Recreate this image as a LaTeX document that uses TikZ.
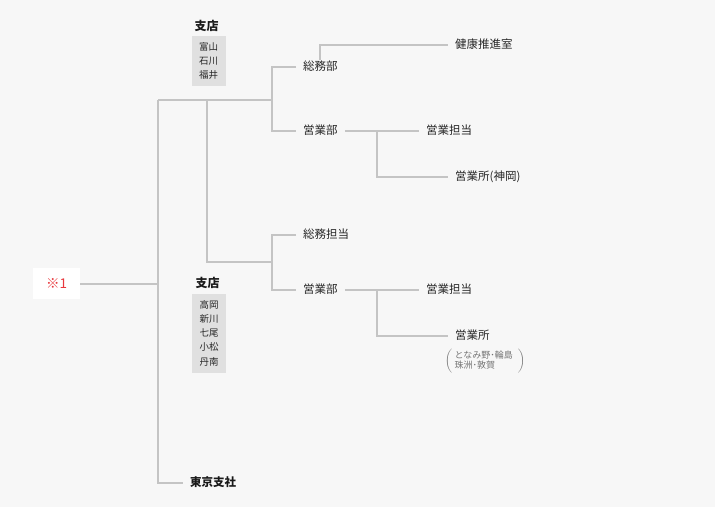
\documentclass[tikz,border=0pt]{standalone}
\usepackage{fontspec}
\newfontfamily\jp{Noto Sans CJK JP}
\usepackage{tikz}
\definecolor{bgcol}{HTML}{F7F7F7}
\definecolor{linecol}{HTML}{C4C4C4}
\definecolor{txtcol}{HTML}{262626}
\definecolor{boxcol}{HTML}{E0E0E0}
\definecolor{markred}{HTML}{E8383D}
\tikzset{
  conn/.style={draw=linecol, line width=2pt},
  label/.style={anchor=west, inner xsep=7pt, inner ysep=2pt, text=txtcol,
    font=\jp\fontsize{11.5}{14}\selectfont, text height=0.88em, text depth=0.12em},
  title/.style={inner sep=1pt, text=black!90, font=\jp\bfseries\fontsize{12}{14}\selectfont},
  listbox/.style={fill=boxcol, align=center, text=txtcol, minimum width=34pt,
    inner sep=0pt, font=\jp\fontsize{9.5}{14.3}\selectfont},
  note/.style={inner sep=0pt, text=txtcol, font=\jp\fontsize{9}{12}\selectfont}
}
\begin{document}
\begin{tikzpicture}[x=1pt, y=-1pt]
  \fill[bgcol] (0,0) rectangle (715,507);
  \useasboundingbox (0,0) rectangle (715,507);

  \node[fill=white, minimum width=47pt, minimum height=31pt, text=markred,
    font=\jp\fontsize{13.5}{16}\selectfont] (mark) at (56.5,283.5) {※1};

  \node[title] (shiten1) at (206.5,26) {支店};
  \node[listbox, minimum height=50pt] (list1) at (208.5,61) {富山\\石川\\福井};
  \node[title] (shiten2) at (207.5,283) {支店};
  \node[listbox, minimum height=79pt] (list2) at (209,333) {高岡\\新川\\七尾\\小松\\丹南};

  \node[label] (sm1) at (296,67) {総務部};
  \node[label] (eb1) at (296,131) {営業部};
  \node[label] (ken) at (448,45) {健康推進室};
  \node[label] (et1) at (419,131) {営業担当};
  \node[label] (es1) at (448,177) {営業所(神岡)};

  \node[label] (st2) at (296,235) {総務担当};
  \node[label] (eb2) at (296,290) {営業部};
  \node[label] (et2) at (419,290) {営業担当};
  \node[label] (es2) at (448,336) {営業所};
  \node[note] (area) at (485,361)
    {$\color{black!55}\left(\vcenter{\hbox{\begin{tabular}{@{\;}l@{\;\;}}となみ野･輪島\\[-2pt]珠洲･敦賀\end{tabular}}}\right)$};

  \node[label, font=\jp\bfseries\fontsize{11.5}{14}\selectfont, text=black!90] (tokyo) at (183,483) {東京支社};

  \coordinate (ta) at (158,100);
  \coordinate (tm) at (158,283.5);
  \coordinate (ga) at (272,100);
  \coordinate (gb) at (207,100);
  \coordinate (gd) at (272,262);
  \coordinate (ja) at (377,131);
  \coordinate (jb) at (377,290);

  \draw[conn] (mark) -- (tm);
  \draw[conn] (ta) |- (tokyo.west);
  \draw[conn] (ta) -- (ga);
  \draw[conn] (sm1.west) -| (ga) |- (eb1.west);
  \draw[conn] (gb) |- (gd);
  \draw[conn] (st2.west) -| (gd) |- (eb2.west);
  \draw[conn] (sm1.north) |- (ken.west);
  \draw[conn] (eb1.east) -- (et1.west);
  \draw[conn] (ja) |- (es1.west);
  \draw[conn] (eb2.east) -- (et2.west);
  \draw[conn] (jb) |- (es2.west);
\end{tikzpicture}
\end{document}
